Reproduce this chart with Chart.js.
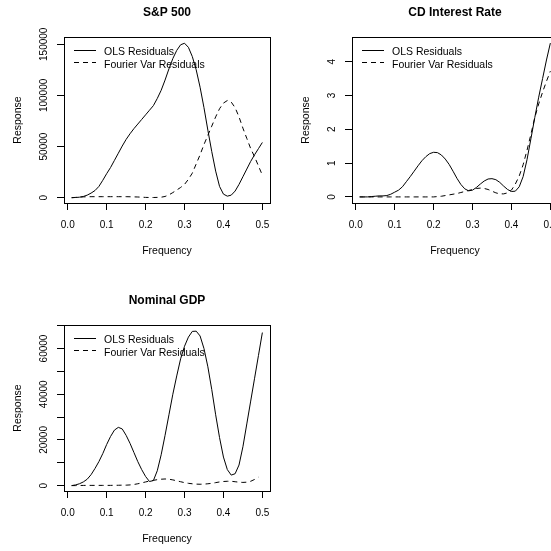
<!DOCTYPE html>
<html><head><meta charset="utf-8">
<script src="https://cdn.jsdelivr.net/npm/chart.js@4.4.1/dist/chart.umd.min.js"></script>
<style>
html,body{margin:0;padding:0;background:#fff;overflow:hidden;width:551px;height:551px;}
#wrap{position:relative;width:551px;height:551px;overflow:hidden;background:#fff;}
canvas{position:absolute;}
</style></head><body><div id="wrap">
<canvas id="c1" width="276" height="276" style="left:0px;top:0px;width:276px;height:276px"></canvas>
<canvas id="c2" width="276" height="276" style="left:288px;top:0px;width:276px;height:276px"></canvas>
<canvas id="c3" width="276" height="276" style="left:0px;top:288px;width:276px;height:276px"></canvas>
</div>
<script>
// ---- data ----
const freq = [0.01,0.02,0.03,0.04,0.05,0.06,0.07,0.08,0.09,0.10,
              0.11,0.12,0.13,0.14,0.15,0.16,0.17,0.18,0.19,0.20,
              0.21,0.22,0.23,0.24,0.25,0.26,0.27,0.28,0.29,0.30,
              0.31,0.32,0.33,0.34,0.35,0.36,0.37,0.38,0.39,0.40,
              0.41,0.42,0.43,0.44,0.45,0.46,0.47,0.48,0.49,0.50];

const seriesNames = ['OLS Residuals', 'Fourier Var Residuals'];
const panelTitles = ['S&P 500', 'CD Interest Rate', 'Nominal GDP'];
const xAxisLabel = 'Frequency';
const yAxisLabel = 'Response';

const xTicks = [0, 0.1, 0.2, 0.3, 0.4, 0.5];
const spTicks = [0, 50000, 100000, 150000];
const cdTicks = [0, 1, 2, 3, 4];
const gdpTicks = [0, 10000, 20000, 30000, 40000, 50000, 60000, 70000];
const gdpTickLabels = ['0', '', '20000', '', '40000', '', '60000', ''];

const spOls = [0,200,500,1200,2500,4500,7000,11000,17000,23500,
               29500,36500,43500,50500,57000,62500,67500,72000,76500,81000,
               85500,90000,97000,105000,115000,126000,136000,144000,149500,151000,
               147000,138000,125000,108000,88000,66000,45000,26000,11000,3500,
               1500,2500,6500,13000,20500,28000,35500,42000,48000,54000];
const spFourier = [0,300,600,800,900,1000,1000,1000,1000,1000,
                   1000,1000,1000,1000,1000,900,800,700,500,300,
                   200,200,300,500,1200,2800,5000,7500,10000,13000,
                   18000,24000,33000,42000,52000,61000,70000,79000,87000,92500,
                   95000,93500,88000,79000,68000,58000,48000,40000,31000,22000];

const cdOls = [0.00,0.00,0.00,0.01,0.02,0.03,0.03,0.04,0.08,0.14,
               0.20,0.30,0.45,0.60,0.76,0.92,1.07,1.19,1.28,1.32,
               1.31,1.24,1.12,0.96,0.76,0.55,0.37,0.24,0.18,0.20,
               0.28,0.38,0.47,0.53,0.54,0.51,0.43,0.32,0.22,0.16,
               0.17,0.30,0.60,1.10,1.72,2.35,2.95,3.50,4.05,4.55];
const cdFourier = [0.00,0.00,0.00,0.00,0.00,0.00,0.00,0.00,0.00,0.00,
                   0.00,0.00,0.00,0.00,0.00,0.00,0.00,0.00,0.00,0.00,
                   0.01,0.02,0.04,0.06,0.08,0.10,0.13,0.16,0.19,0.22,
                   0.25,0.26,0.25,0.22,0.17,0.12,0.09,0.09,0.12,0.20,
                   0.38,0.62,0.95,1.38,1.85,2.35,2.75,3.10,3.42,3.72];

const gdpOls = [0,300,800,1600,2800,4800,7500,10500,14000,18000,
                21500,24300,25500,24800,22000,18500,14500,10500,7000,4000,
                1800,2200,6500,13500,22000,31000,40000,48000,55500,61000,
                65000,67500,67600,65500,60000,52000,42000,31000,21000,12500,
                7000,4600,5200,9000,17000,27000,37000,47000,57000,67000];
const gdpFourier = [0,0,50,80,100,100,100,100,100,100,
                    100,150,150,200,200,300,500,800,1200,1600,
                    2000,2300,2600,2800,2900,2800,2500,2100,1700,1300,
                    1000,800,650,600,650,800,1000,1300,1600,1800,
                    1900,1900,1700,1500,1400,1500,1900,2700,3700,null];

// ---- styling / helpers ----
const FONT = '"Liberation Sans", Arial, Helvetica, sans-serif';
Chart.defaults.font.family = FONT;
Chart.defaults.color = '#000';

function textWidth(str, size) {
  const c = document.createElement('canvas').getContext('2d');
  c.font = size + 'px ' + FONT;
  return c.measureText(str).width;
}

const boxPlugin = {
  id: 'rbox',
  afterDraw(chart) {
    const {ctx, chartArea: a} = chart;
    ctx.save();
    ctx.strokeStyle = '#000';
    ctx.lineWidth = 1;
    ctx.setLineDash([]);
    ctx.strokeRect(a.left + 0.5, a.top + 0.5, a.right - a.left, a.bottom - a.top);
    ctx.restore();
  }
};

const legendPlugin = {
  id: 'rlegend',
  afterDraw(chart) {
    const {ctx, chartArea: a} = chart;
    ctx.save();
    ctx.font = '10.5px ' + FONT;
    ctx.fillStyle = '#000';
    ctx.strokeStyle = '#000';
    ctx.lineWidth = 1;
    ctx.textBaseline = 'middle';
    ctx.textAlign = 'left';
    chart.data.datasets.forEach((ds, i) => {
      const ly = Math.floor(a.top + 13 + i * 12.5) + 0.5;
      ctx.setLineDash(ds.borderDash || []);
      ctx.beginPath();
      ctx.moveTo(a.left + 10, ly);
      ctx.lineTo(a.left + 32, ly);
      ctx.stroke();
      ctx.setLineDash([]);
      ctx.fillText(ds.label, a.left + 40, a.top + 15.3 + i * 12.5);
    });
    ctx.restore();
  }
};

function makeChart(id, title, ols, four, ymin, ymax, yTicks, yLabels) {
  let widest = 0;
  yLabels.forEach(l => { widest = Math.max(widest, textWidth(l, 10)); });
  const yPad = 13 - widest / 2;

  return new Chart(document.getElementById(id), {
    type: 'line',
    data: {
      datasets: [
        { label: seriesNames[0], data: freq.map((f, i) => ({x: f, y: ols[i]})),
          borderColor: '#000', borderWidth: 1, pointRadius: 0, tension: 0, fill: false },
        { label: seriesNames[1], data: freq.map((f, i) => ({x: f, y: four[i]})),
          borderColor: '#000', borderWidth: 1, borderDash: [5, 4], pointRadius: 0, tension: 0, fill: false }
      ]
    },
    options: {
      responsive: false,
      animation: false,
      devicePixelRatio: 1,
      events: [],
      layout: { padding: { left: 0, top: 0, right: 6, bottom: 0 } },
      plugins: {
        legend: { display: false },
        tooltip: { enabled: false },
        title: {
          display: true, text: title, fullSize: false, color: '#000',
          font: { size: 12, weight: 'bold', family: FONT },
          padding: { top: 5.3, bottom: 17.3 }
        }
      },
      scales: {
        x: {
          type: 'linear', min: -0.0096, max: 0.5196,
          grid: { display: true, drawOnChartArea: false, drawTicks: true, tickLength: 7, color: '#000', tickColor: '#000' },
          border: { display: false },
          ticks: { autoSkip: false, maxRotation: 0, padding: 9,
                   color: '#000', font: { size: 10 }, callback: v => Number(v).toFixed(1) },
          afterBuildTicks(s) { s.ticks = xTicks.map(v => ({value: v})); },
          title: { display: true, text: xAxisLabel, color: '#000', font: { size: 10.5 }, padding: { top: 0, bottom: 19 } },
          afterFit(s) { s.height = 73; s.paddingLeft = 0; s.paddingRight = 0; }
        },
        y: {
          type: 'linear', min: ymin, max: ymax,
          grid: { display: true, drawOnChartArea: false, drawTicks: true, tickLength: 7, color: '#000', tickColor: '#000' },
          border: { display: false },
          ticks: { autoSkip: false, minRotation: 90, maxRotation: 90,
                   crossAlign: 'center', padding: yPad, color: '#000', font: { size: 10 },
                   callback: (v, i) => yLabels[i] },
          afterBuildTicks(s) { s.ticks = yTicks.map(v => ({value: v})); },
          title: { display: true, text: yAxisLabel, color: '#000', font: { size: 10.5 }, padding: { top: 11.6, bottom: 0 } },
          afterFit(s) { s.width = 64; s.paddingTop = 0; s.paddingBottom = 0; }
        }
      }
    },
    plugins: [boxPlugin, legendPlugin]
  });
}

makeChart('c1', panelTitles[0], spOls, spFourier, -5180, 157100, spTicks, spTicks.map(String));
makeChart('c2', panelTitles[1], cdOls, cdFourier, -0.18, 4.73, cdTicks, cdTicks.map(String));
makeChart('c3', panelTitles[2], gdpOls, gdpFourier, -2360, 70300, gdpTicks, gdpTickLabels);
</script>
</body></html>
